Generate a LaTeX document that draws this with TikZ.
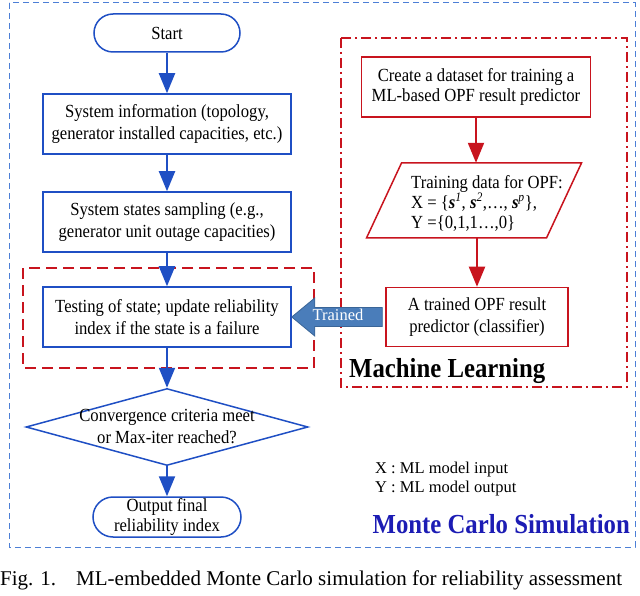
\documentclass[tikz,border=0pt]{standalone}
\usepackage{fontspec}
\setmainfont{Liberation Serif}[FakeStretch=0.9]
\newfontfamily\plainfont{Liberation Serif}
\usetikzlibrary{arrows.meta,shapes.geometric,calc}
\definecolor{mblue}{HTML}{1F4FC4}
\definecolor{lblue}{HTML}{4D7FD6}
\definecolor{mred}{HTML}{C8141E}
\definecolor{mcblue}{HTML}{1C1CB4}
\definecolor{arrfill}{HTML}{4A7DBA}
\definecolor{arrdraw}{HTML}{3A6597}
\begin{document}
\begin{tikzpicture}[x=1pt,y=-1pt,
 txt/.style={font=\fontsize{18.5}{22}\selectfont, align=center},
 bbox/.style={txt, draw=mblue, line width=1.5pt, minimum width=248pt, minimum height=60pt, inner sep=0pt},
 rbox/.style={txt, draw=mred, line width=1.5pt, inner sep=0pt},
 term/.style={txt, draw=mblue, line width=1.5pt, inner sep=0pt},
 barrow/.style={draw=mblue, line width=2pt, -{Triangle[width=16pt,length=20pt]}},
 rarrow/.style={draw=mred, line width=2pt, -{Triangle[width=16pt,length=20pt]}},
]
\useasboundingbox (0,0) rectangle (640,596);
% frames
\draw[lblue, line width=1pt, dash pattern=on 6pt off 4pt] (9,3) rectangle (635,547);
\draw[mred, line width=2pt, dash pattern=on 11pt off 6pt] (23,268) rectangle (314,368);
\draw[mred, line width=1.5pt, dash pattern=on 10pt off 4pt on 2pt off 4pt] (341,38) rectangle (627,387);

% Monte Carlo flow
\node[term, minimum width=146pt, minimum height=38pt, rounded corners=19pt] (start) at (167,33) {Start};
\node[bbox] (info) at (167,124) {System information (topology,\\generator installed capacities, etc.)};
\node[bbox] (samp) at (167,222) {System states sampling (e.g.,\\generator unit outage capacities)};
\node[bbox] (test) at (167,317) {Testing of state; update reliability\\index if the state is a failure};
\node[diamond, draw=mblue, line width=1.5pt, minimum width=282pt, minimum height=77pt, inner sep=0pt] (conv) at (167,427) {};
\node[txt] (convt) at (167,427) {Convergence criteria meet\\or Max-iter reached?};
\node[term, minimum width=148pt, minimum height=40pt, rounded corners=20pt, font=\fontsize{18.5}{20}\selectfont] (out) at (167,517) {Output final\\reliability index};

\draw[barrow] (start) -- (info);
\draw[barrow] (info) -- (samp);
\draw[barrow] (samp) -- (test);
\draw[barrow] (test) -- (conv);
\draw[barrow] (conv) -- (out);

% Machine learning flow
\node[rbox, minimum width=229pt, minimum height=60pt, font=\fontsize{18.5}{20}\selectfont] (create) at (476,87) {Create a dataset for training a\\ML-based OPF result predictor};
\node[minimum width=180pt, minimum height=75pt, inner sep=0pt] (par) at (474,200.5) {};
\draw[mred, line width=1.5pt] ($(par.center)+(-107.5,37.5)$) -- ($(par.center)+(72.5,37.5)$) -- ($(par.center)+(107.5,-37.5)$) -- ($(par.center)+(-72.5,-37.5)$) -- cycle;
\node[txt, align=left, anchor=west, inner sep=0pt, font=\fontsize{18.5}{20}\selectfont] (part) at (411,203) {Training data for OPF:\\X = \{\textbf{\textit{s}}\textsuperscript{\textit{1}}, \textbf{\textit{s}}\textsuperscript{\textit{2}},\ldots, \textbf{\textit{s}}\textsuperscript{\textit{p}}\},\\Y =\{0,1,1\ldots,0\}};
\node[rbox, minimum width=182pt, minimum height=59pt] (trained) at (477,317) {A trained OPF result\\predictor (classifier)};

\draw[rarrow] (create.south) -- (create.south |- par.north);
\draw[rarrow] (trained.north |- par.south) -- (trained.north);

% big arrow
\filldraw[fill=arrfill, draw=arrdraw, line width=0.8pt] (test.east) -- ++(23,-19) -- ++(0,9.5) -- ($(trained.west)+(-3,-9.5)$) -- ++(0,19) -- ($(test.east)+(23,9.5)$) -- ++(0,9.5) -- cycle;
\node[font=\plainfont\fontsize{16.5}{19}\selectfont, text=white, inner sep=0pt] (trlab) at (338,315) {Trained};

% labels
\node[font=\fontsize{27.5}{32}\selectfont\bfseries, anchor=west, inner sep=0pt] (ml) at (349,371) {Machine Learning};
\node[font=\plainfont\fontsize{16.5}{19}\selectfont, anchor=west, align=left, inner sep=0pt] (leg) at (375,479) {X : ML model input\\Y : ML model output};
\node[font=\fontsize{27.5}{32}\selectfont\bfseries, text=mcblue, anchor=east, inner sep=0pt] (mc) at (630,524) {Monte Carlo Simulation};
\node[font=\plainfont\fontsize{21}{25}\selectfont, anchor=west, inner sep=0pt] (cap) at (0,580) {Fig. 1.\hspace{20pt}ML-embedded Monte Carlo simulation for reliability assessment};
\end{tikzpicture}
\end{document}
